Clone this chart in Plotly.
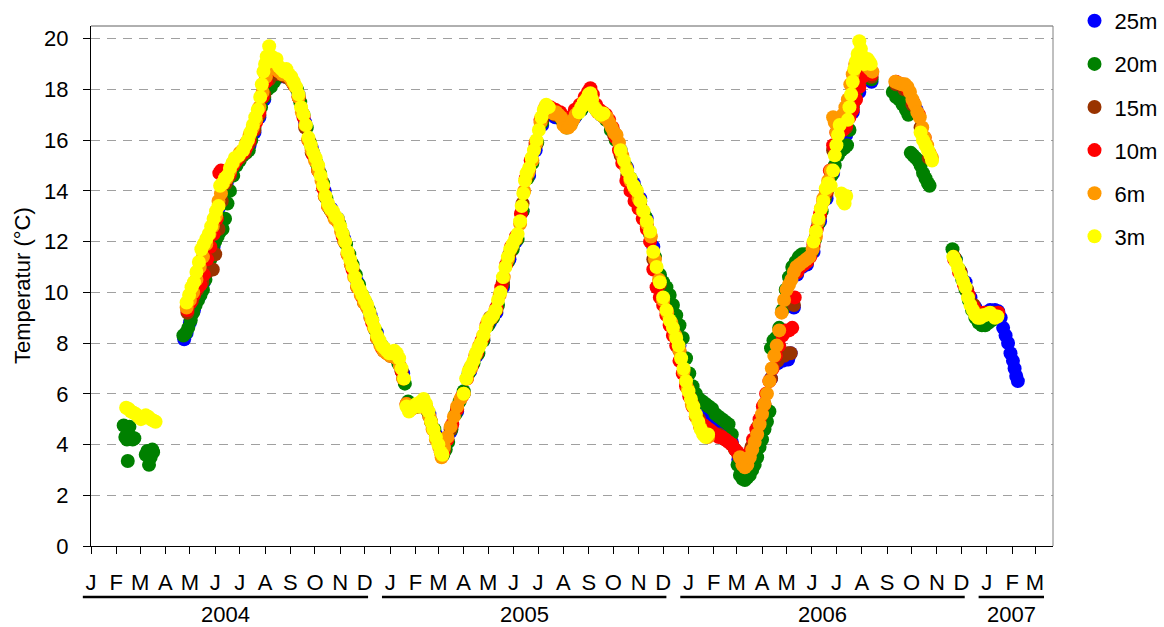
import pandas as pd
import plotly.graph_objects as go

# ---------------- data (day offset from 2004-01-01, temperature °C) ----------------
day0 = pd.Timestamp("2004-01-01")

s25m = [
    (114, 8.15), (117, 8.4), (121, 8.8), (126, 9.3), (132, 9.8), (138, 10.4), (144, 11.0), (150, 11.8),
    (154, 12.8), (156, 13.3), (159, 13.5), (162, 14.0), (166, 14.3), (170, 14.6), (176, 15.0), (182, 15.3),
    (188, 15.5), (194, 15.8), (200, 16.3), (206, 16.9), (212, 17.6), (218, 18.2), (224, 18.4), (230, 18.5),
    (238, 18.5), (246, 18.3), (254, 17.8), (262, 16.7), (270, 15.7), (278, 14.9), (286, 14.0), (294, 13.3),
    (302, 12.9), (310, 12.1), (318, 11.2), (326, 10.4), (334, 9.7), (342, 9.1), (350, 8.4), (358, 7.8),
    (366, 7.6), (374, 7.5), (382, 6.8), (390, 5.6), (398, 5.5), (406, 5.6), (414, 5.2), (422, 4.4), (428, 3.9),
    (432, 4.0), (440, 4.5), (448, 5.3), (456, 6.0), (464, 6.9), (472, 7.5), (480, 8.1), (488, 8.8),
    (496, 9.2), (504, 10.2), (512, 11.3), (520, 12.0), (528, 13.2), (536, 14.6), (544, 15.6), (552, 16.6),
    (560, 17.0), (568, 16.9), (576, 16.8), (584, 16.6), (592, 16.9), (600, 17.2), (608, 17.5), (616, 17.3),
    (624, 17.0), (632, 16.8), (640, 16.3), (648, 15.6), (656, 14.9), (664, 14.3), (672, 13.7), (680, 12.9),
    (688, 11.8), (696, 10.6), (704, 9.6), (712, 8.8), (720, 7.9), (728, 6.8), (736, 5.9), (744, 5.3),
    (752, 5.0), (760, 4.9), (768, 4.7), (776, 4.5), (784, 4.1), (792, 3.4),
    (800, 2.9), (808, 3.5), (816, 4.5), (824, 5.5), (832, 6.6), (840, 7.2), (846, 7.3), (850, 7.35),
    (853, 7.35), (856, 7.6), (860, 9.4), (864, 10.7), (870, 11.0), (876, 11.1), (884, 11.6), (892, 12.8),
    (900, 13.7), (908, 14.7), (916, 15.6), (924, 16.2), (932, 17.1), (940, 17.9), (948, 18.4), (955, 18.3),
    (990, 18.1), (1000, 17.8), (1010, 17.2),
    (1058, 11.3), (1064, 10.8), (1070, 10.4), (1076, 9.8), (1082, 9.4), (1088, 9.2), (1094, 9.2),
    (1100, 9.3), (1106, 9.3), (1110, 9.25), (1113, 9.0), (1116, 8.6), (1119, 8.3), (1122, 8.0), (1125, 7.6),
    (1128, 7.3), (1130, 7.0), (1132, 6.7), (1134, 6.5),
]

s20m = [
    (40, 4.75), (42, 4.3), (44, 4.2), (45, 3.35), (47, 4.7), (49, 4.3), (51, 4.2), (53, 4.25),
    (67, 3.6), (69, 3.75), (71, 3.2), (73, 3.5), (75, 3.8), (76, 3.7),
    (113, 8.3), (116, 8.4), (119, 8.6), (122, 8.9), (125, 9.2), (128, 9.5), (131, 9.7), (134, 9.9),
    (137, 10.1), (140, 10.5), (143, 10.9), (146, 11.3), (149, 11.7), (152, 12.0), (155, 12.2), (158, 12.4),
    (161, 12.5), (164, 12.9), (167, 13.5), (170, 14.0), (174, 14.6), (178, 15.0), (182, 15.2), (186, 15.4),
    (190, 15.5), (193, 15.6), (196, 16.0), (200, 16.5), (204, 16.9), (208, 17.3), (212, 17.7), (216, 18.0),
    (220, 18.1), (224, 18.3), (228, 18.5), (232, 18.6), (236, 18.6), (240, 18.5), (244, 18.4), (248, 18.2),
    (252, 18.0), (256, 17.5), (260, 17.0), (264, 16.5), (268, 15.9), (272, 15.5), (276, 15.1), (280, 14.7),
    (284, 14.3), (288, 13.7), (292, 13.3), (296, 13.1), (300, 12.9), (304, 12.7), (308, 12.3), (312, 11.9),
    (316, 11.5), (320, 11.1), (324, 10.7), (328, 10.3), (332, 9.9), (336, 9.6), (340, 9.3), (344, 8.9),
    (348, 8.5), (352, 8.1), (356, 7.9), (360, 7.7), (364, 7.6), (368, 7.6), (372, 7.5), (376, 7.2),
    (380, 6.9), (384, 6.4), (388, 5.7), (392, 5.5), (396, 5.5), (400, 5.5), (404, 5.6), (408, 5.6),
    (412, 5.3), (416, 4.9), (420, 4.6), (424, 4.2), (428, 3.8), (431, 3.6),
    (434, 3.8), (437, 4.1), (441, 4.6), (446, 5.2), (451, 5.7), (456, 6.1), (462, 6.8), (468, 7.2),
    (474, 7.6), (480, 8.1), (486, 8.7), (492, 9.0), (498, 9.5), (504, 10.3), (510, 11.2), (516, 11.7),
    (522, 12.1), (528, 13.2), (534, 14.5), (540, 15.1), (546, 15.9), (552, 16.7), (558, 17.2), (564, 17.1),
    (570, 17.0), (576, 16.8), (582, 16.5), (588, 16.7), (594, 17.0), (600, 17.2), (606, 17.5), (612, 17.6),
    (618, 17.2), (624, 17.0), (630, 16.8), (636, 16.4), (642, 16.0), (648, 15.5), (654, 15.0), (660, 14.5),
    (666, 14.1), (672, 13.6), (678, 13.0), (684, 12.3), (690, 11.4), (696, 10.7), (700, 10.4), (704, 10.2),
    (708, 9.9), (712, 9.5), (716, 9.1), (720, 8.7), (724, 8.2), (728, 7.4), (732, 6.8), (736, 6.3),
    (740, 6.0), (744, 5.8), (748, 5.7), (752, 5.6), (756, 5.5), (760, 5.4), (764, 5.2), (768, 5.1),
    (772, 5.0), (776, 4.9), (780, 4.8), (784, 4.4), (788, 3.8), (791, 3.2), (794, 2.8), (797, 2.65),
    (800, 2.6), (803, 2.7), (806, 2.8), (809, 3.0), (812, 3.2), (815, 3.5), (818, 3.9), (821, 4.2),
    (824, 4.6), (827, 4.9), (830, 5.3), (832, 7.8), (835, 8.1), (838, 8.2), (842, 8.6), (846, 9.3),
    (850, 10.1), (854, 10.6), (858, 11.0), (862, 11.2), (866, 11.4), (870, 11.5), (874, 11.5), (878, 11.4),
    (882, 11.6), (886, 12.1), (890, 12.7), (894, 13.2), (898, 13.7), (902, 14.1), (906, 14.6), (910, 15.0),
    (914, 15.4), (918, 15.6), (922, 15.7), (925, 15.8), (928, 16.4), (932, 17.3), (936, 17.9), (940, 18.3),
    (944, 18.6), (948, 18.8), (952, 18.6), (955, 18.4),
    (981, 17.9), (985, 17.7), (989, 17.6), (993, 17.4), (997, 17.2), (1000, 17.0), (1003, 15.5),
    (1006, 15.4), (1009, 15.3), (1012, 15.2), (1015, 15.0), (1018, 14.7), (1021, 14.5), (1024, 14.3),
    (1026, 14.2),
    (1054, 11.7), (1058, 11.3), (1062, 10.9), (1066, 10.5), (1070, 10.1), (1074, 9.7), (1078, 9.3),
    (1082, 9.0), (1086, 8.8), (1090, 8.7), (1094, 8.7), (1098, 8.8), (1102, 8.9),
]

s15m = [
    (118, 9.2), (124, 9.7), (130, 10.1), (136, 10.4), (142, 10.8), (146, 10.9), (149, 10.9), (152, 11.5),
    (156, 12.5), (160, 13.6), (165, 14.3), (170, 14.6), (176, 15.1), (182, 15.3), (188, 15.5), (194, 15.9),
    (200, 16.4), (206, 17.0), (212, 17.8), (218, 18.4), (224, 18.6), (230, 18.6), (238, 18.5), (246, 18.3),
    (254, 17.7), (262, 16.5), (270, 15.5), (278, 14.8), (286, 13.8), (294, 13.2), (302, 12.8), (310, 12.0),
    (318, 11.1), (326, 10.2), (334, 9.6), (342, 9.0), (350, 8.2), (358, 7.7), (366, 7.5), (374, 7.4),
    (382, 6.6), (390, 5.5), (398, 5.5), (406, 5.6), (414, 5.1), (422, 4.3), (428, 3.8),
    (432, 3.8), (440, 4.6), (448, 5.4), (456, 6.0), (464, 7.0), (472, 7.6), (480, 8.2), (488, 9.0),
    (496, 9.3), (504, 10.4), (512, 11.5), (520, 12.1), (528, 13.5), (536, 14.8), (544, 15.8), (552, 16.8),
    (560, 17.1), (568, 17.0), (576, 16.9), (584, 16.6), (592, 17.0), (600, 17.3), (608, 17.7), (616, 17.3),
    (624, 17.0), (632, 16.8), (640, 16.2), (648, 15.4), (656, 14.6), (664, 14.0), (672, 13.4), (680, 12.6),
    (688, 11.3), (696, 10.3), (704, 9.3), (712, 8.6), (720, 7.7), (728, 6.5), (736, 5.6), (744, 5.0),
    (752, 4.6), (760, 4.5), (768, 4.4), (776, 4.2), (784, 4.0), (792, 3.6),
    (800, 3.3), (808, 3.9), (816, 4.7), (824, 5.6), (832, 6.6), (840, 7.3), (848, 7.5), (852, 7.6),
    (856, 7.6), (860, 9.5), (864, 10.8), (870, 11.1), (876, 11.2), (884, 11.8), (892, 13.0), (900, 13.9),
    (908, 15.6), (916, 16.4), (924, 16.5), (932, 17.4), (940, 18.2), (948, 18.6), (955, 18.5),
    (985, 18.2), (995, 18.0), (1005, 17.4), (1015, 16.5), (1025, 15.3),
    (1056, 11.4), (1064, 10.8), (1072, 10.1), (1080, 9.5), (1088, 9.2), (1096, 9.2), (1104, 9.2), (1110, 9.2),
]

s10m = [
    (118, 9.3), (122, 9.6), (126, 9.9), (130, 10.2), (134, 10.3), (138, 10.7), (142, 11.3), (146, 11.8),
    (150, 12.3), (154, 12.9), (157, 14.7), (159, 14.8), (162, 14.6), (166, 14.5), (170, 14.7), (174, 15.0),
    (178, 15.2), (182, 15.4), (186, 15.5), (190, 15.7), (194, 16.0), (198, 16.4), (202, 16.7), (206, 17.1),
    (210, 17.7), (214, 18.3), (218, 18.7), (222, 18.8), (226, 18.8), (230, 18.7), (236, 18.6), (242, 18.5),
    (248, 18.2), (254, 17.7), (260, 16.9), (266, 16.0), (272, 15.4), (278, 14.8), (284, 14.1), (290, 13.4),
    (296, 13.1), (302, 12.8), (308, 12.2), (314, 11.5), (320, 10.9), (326, 10.2), (332, 9.8), (338, 9.4),
    (344, 8.8), (350, 8.2), (356, 7.8), (362, 7.6), (368, 7.5), (374, 7.4), (380, 6.9), (386, 5.6),
    (392, 5.4), (398, 5.5), (404, 5.6), (410, 5.5), (416, 4.9), (422, 4.3), (428, 3.7),
    (431, 3.7), (436, 4.2), (442, 4.8), (448, 5.4), (454, 5.9), (460, 6.6), (466, 7.1), (472, 7.6),
    (478, 8.1), (484, 8.7), (490, 9.0), (496, 9.4), (502, 10.2), (508, 11.1), (514, 11.8), (520, 12.2),
    (526, 13.1), (532, 14.5), (538, 15.2), (544, 15.9), (550, 16.8), (556, 17.3), (562, 17.3), (568, 17.2),
    (574, 17.1), (580, 16.8), (586, 16.9), (592, 17.2), (598, 17.4), (604, 17.7), (608, 17.9), (611, 18.05),
    (614, 17.8), (618, 17.4), (622, 17.2), (626, 17.1), (630, 17.0), (634, 16.8), (638, 16.5), (642, 16.1),
    (646, 15.6), (650, 15.1), (655, 14.4), (660, 14.0), (665, 13.6), (670, 13.3), (675, 12.9), (680, 12.5),
    (684, 12.0), (688, 10.9), (692, 10.2), (696, 9.8), (700, 9.5), (704, 9.1), (708, 8.7), (712, 8.3),
    (716, 7.9), (720, 7.3), (724, 6.8), (728, 6.3), (732, 5.9), (736, 5.5), (740, 5.1), (744, 4.9),
    (748, 4.8), (752, 4.7), (756, 4.6), (760, 4.5), (764, 4.4), (768, 4.3), (772, 4.3), (776, 4.2),
    (780, 4.1), (784, 4.0), (788, 3.8), (791, 3.7), (794, 3.5),
    (798, 3.2), (802, 3.3), (806, 3.7), (810, 4.2), (814, 4.6), (818, 5.0), (822, 5.5), (826, 6.0),
    (830, 6.5), (834, 7.0), (838, 7.5), (842, 7.9), (846, 8.3), (850, 8.5), (854, 8.5), (858, 8.6),
    (861, 9.8), (864, 10.8), (868, 11.0), (872, 11.1), (876, 11.2), (880, 11.4), (884, 11.9), (888, 12.5),
    (892, 13.1), (896, 13.6), (900, 14.0), (904, 14.8), (908, 15.8), (912, 16.3), (916, 16.6), (920, 16.4),
    (924, 16.6), (928, 16.9), (932, 17.2), (936, 17.6), (940, 18.1), (944, 18.5), (948, 18.8), (952, 18.7),
    (955, 18.6),
    (985, 18.3), (992, 18.2), (999, 18.0), (1006, 17.5), (1013, 17.0), (1020, 16.1), (1027, 15.4),
    (1056, 11.3), (1062, 10.8), (1068, 10.3), (1074, 9.9), (1080, 9.4), (1086, 9.2), (1092, 9.2),
    (1098, 9.2), (1104, 9.1), (1110, 9.2),
]

s6m = [
    (117, 9.4), (121, 9.7), (125, 10.0), (129, 10.5), (133, 11.0), (137, 11.4), (141, 11.9), (145, 12.3),
    (149, 12.6), (153, 13.0), (156, 13.6), (159, 13.9), (162, 14.3), (166, 14.5), (170, 14.8), (174, 15.1),
    (178, 15.3), (182, 15.5), (186, 15.6), (190, 15.9), (194, 16.2), (198, 16.5), (202, 16.8), (206, 17.3),
    (210, 17.9), (214, 18.5), (218, 18.9), (222, 18.9), (226, 18.8), (230, 18.7), (234, 18.6), (238, 18.6),
    (242, 18.5), (246, 18.3), (250, 18.1), (254, 17.7), (258, 17.1), (262, 16.6), (266, 16.0), (270, 15.6),
    (274, 15.2), (278, 14.8), (282, 14.4), (286, 13.8), (290, 13.4), (294, 13.2), (298, 12.9), (302, 12.8),
    (306, 12.4), (310, 12.0), (314, 11.5), (318, 11.1), (322, 10.6), (326, 10.2), (330, 9.9), (334, 9.6),
    (338, 9.4), (342, 9.0), (346, 8.6), (350, 8.2), (354, 7.9), (358, 7.7), (362, 7.6), (366, 7.5),
    (370, 7.5), (374, 7.4), (378, 7.1), (382, 6.6), (386, 5.6), (390, 5.4), (394, 5.5), (398, 5.5),
    (402, 5.5), (406, 5.6), (410, 5.4), (414, 5.1), (418, 4.6), (422, 4.2), (426, 3.9),
    (429, 3.5), (432, 3.9), (436, 4.3), (440, 4.7), (444, 5.1), (448, 5.5), (452, 5.8), (456, 6.0),
    (460, 6.6), (465, 7.0), (470, 7.5), (475, 7.9), (480, 8.3), (485, 8.8), (490, 9.0), (495, 9.3),
    (500, 9.9), (505, 10.6), (510, 11.3), (515, 11.8), (520, 12.1), (525, 12.7), (530, 14.0), (535, 14.7),
    (540, 15.2), (545, 15.9), (550, 16.7), (555, 17.2), (560, 17.2), (563, 17.1), (566, 17.05), (569, 17.1),
    (572, 17.0), (575, 16.9), (578, 16.6), (581, 16.5), (584, 16.5), (587, 16.6), (590, 16.8), (593, 17.0),
    (596, 17.1), (600, 17.3), (604, 17.5), (608, 17.7), (612, 17.7), (616, 17.3), (620, 17.1), (624, 17.0),
    (628, 16.9), (631, 16.9), (634, 16.7), (637, 16.5), (640, 16.3), (643, 16.2), (646, 15.9), (650, 15.4),
    (655, 14.9), (660, 14.4), (665, 14.1), (670, 13.7), (675, 13.2), (680, 12.7), (685, 12.2), (690, 11.3),
    (695, 10.5), (700, 9.7), (705, 9.2), (710, 8.8), (715, 8.3), (720, 7.7), (725, 6.9), (730, 6.2),
    (735, 5.6), (740, 5.1), (745, 4.7), (750, 4.4), (755, 4.3),
    (794, 3.5), (797, 3.2), (800, 3.1), (803, 3.2), (806, 3.5), (809, 3.8), (812, 4.1), (815, 4.4),
    (818, 4.8), (821, 5.2), (824, 5.6), (827, 6.0), (830, 6.5), (833, 7.0), (836, 7.5), (839, 7.9),
    (842, 8.5), (845, 9.2), (848, 9.7), (851, 10.1), (854, 10.3), (857, 10.5), (860, 10.8), (863, 11.0),
    (867, 11.1), (871, 11.2), (875, 11.3), (879, 11.4), (883, 11.7), (887, 12.2), (890, 12.8), (893, 13.3),
    (896, 13.7), (899, 14.0), (902, 14.4), (905, 14.8), (908, 16.9), (910, 16.7), (912, 16.3), (914, 16.5),
    (917, 16.8), (920, 17.0), (923, 17.3), (926, 17.6), (929, 18.2), (932, 18.6), (935, 19.0), (938, 19.2),
    (941, 19.1), (944, 19.2), (947, 19.0), (950, 18.9), (953, 18.8), (956, 18.7),
    (984, 18.3), (988, 18.25), (992, 18.2), (996, 18.2), (999, 18.1), (1002, 17.9), (1005, 17.6),
    (1008, 17.4), (1011, 17.1), (1014, 16.9), (1017, 16.5), (1020, 16.1), (1023, 15.8), (1026, 15.5),
    (1029, 15.3),
]

s3m = [
    (43, 5.45), (46, 5.4), (49, 5.3), (52, 5.25), (55, 5.2), (58, 5.1), (61, 5.0), (64, 5.05),
    (67, 5.15), (70, 5.1), (73, 5.0), (76, 4.95), (79, 4.9),
    (117, 9.6), (120, 9.9), (123, 10.2), (126, 10.4), (129, 10.8), (132, 11.2), (135, 11.7), (138, 11.9),
    (141, 12.1), (144, 12.3), (147, 12.6), (150, 12.9), (153, 13.2), (156, 13.4), (158, 14.2), (161, 14.3),
    (164, 14.5), (167, 14.6), (170, 14.9), (173, 15.1), (176, 15.3), (181, 15.4), (186, 15.6), (189, 15.8),
    (192, 16.0), (195, 16.3), (198, 16.6), (201, 16.9), (204, 17.2), (207, 17.7), (209, 18.2), (211, 18.7),
    (213, 19.0), (215, 19.3), (218, 19.7), (221, 19.3), (224, 19.1), (227, 19.2), (230, 18.9), (233, 18.8),
    (236, 18.7), (239, 18.8), (242, 18.6), (245, 18.5), (248, 18.3), (251, 18.1), (254, 17.8), (257, 17.3),
    (260, 17.0), (263, 16.6), (266, 16.1), (269, 15.8), (272, 15.5), (275, 15.3), (278, 15.0), (281, 14.6),
    (284, 14.2), (287, 13.8), (290, 13.5), (293, 13.3), (296, 13.2), (299, 13.0), (302, 12.9), (305, 12.6),
    (308, 12.3), (311, 12.0), (314, 11.6), (317, 11.3), (320, 11.0), (323, 10.6), (326, 10.3), (329, 10.1),
    (332, 9.9), (335, 9.7), (338, 9.5), (341, 9.2), (344, 8.9), (347, 8.6), (350, 8.3), (353, 8.1),
    (356, 7.9), (359, 7.8), (362, 7.7), (365, 7.6), (368, 7.6), (371, 7.7), (374, 7.6), (377, 7.4),
    (380, 7.0), (383, 6.6), (386, 5.5), (389, 5.3), (392, 5.4), (395, 5.5), (398, 5.6), (401, 5.5),
    (404, 5.7), (407, 5.8), (410, 5.6), (413, 5.3), (416, 4.9), (419, 4.6), (422, 4.3), (425, 4.0),
    (428, 3.7), (430, 3.6),
    (456, 6.0), (459, 6.6), (462, 6.9), (465, 7.1), (468, 7.3), (471, 7.6), (474, 7.8), (477, 8.0),
    (480, 8.3), (483, 8.6), (486, 8.9), (489, 9.0), (492, 9.1), (495, 9.3), (498, 9.7), (501, 10.0),
    (504, 10.6), (507, 11.0), (510, 11.4), (513, 11.7), (516, 11.9), (519, 12.1), (522, 12.3), (525, 12.8),
    (527, 13.4), (529, 13.9), (531, 14.4), (533, 14.7), (536, 14.9), (539, 15.3), (542, 15.6), (545, 16.0),
    (548, 16.4), (551, 16.9), (554, 17.2), (557, 17.4), (560, 17.3),
    (597, 17.1), (600, 17.3), (603, 17.5), (606, 17.6), (609, 17.8), (611, 17.85), (613, 17.6), (615, 17.3),
    (618, 17.2), (621, 17.1), (624, 17.0), (627, 17.05),
    (648, 15.6), (652, 15.2), (656, 14.8), (660, 14.5), (664, 14.2), (668, 14.0), (672, 13.6), (676, 13.2),
    (680, 12.8), (684, 12.4), (688, 11.6), (692, 11.0), (696, 10.4), (700, 9.8), (704, 9.3), (708, 8.9),
    (712, 8.6), (716, 8.2), (719, 7.9), (722, 7.4), (725, 7.0), (728, 6.5), (731, 6.1), (734, 5.8),
    (737, 5.5), (740, 5.2), (743, 4.9), (746, 4.6), (749, 4.4), (752, 4.3), (755, 4.4),
    (884, 12.0), (887, 12.4), (890, 12.9), (893, 13.3), (896, 13.6), (899, 14.1), (902, 14.3), (905, 14.2),
    (908, 14.8), (910, 15.4), (912, 15.8), (914, 16.2), (916, 16.6), (918, 13.9), (920, 13.6), (922, 13.5),
    (924, 13.8), (926, 16.8), (928, 17.3), (930, 17.8), (932, 18.3), (934, 18.8), (936, 19.1), (938, 19.4),
    (940, 19.9), (942, 19.6), (944, 19.3), (946, 19.0), (948, 19.1), (950, 19.2), (952, 19.1), (954, 19.0),
    (1015, 16.3), (1018, 16.0), (1021, 15.8), (1024, 15.6), (1027, 15.4), (1029, 15.2),
    (1055, 11.4), (1058, 11.2), (1061, 10.95), (1064, 10.7), (1067, 10.45), (1070, 10.2), (1073, 9.8),
    (1076, 9.5), (1079, 9.3), (1082, 9.1), (1085, 9.0), (1088, 9.0), (1091, 9.1), (1094, 9.1),
    (1097, 9.15), (1100, 9.2), (1103, 9.1), (1106, 9.0), (1109, 9.05),
]

series_names = ["25m", "20m", "15m", "10m", "6m", "3m"]
series_data = [s25m, s20m, s15m, s10m, s6m, s3m]

month_letters = list("JFMAMJJASOND") * 3 + list("JFM")
year_labels = ["2004", "2005", "2006", "2007"]

# ---------------- styling ----------------
colors = ["#0000FF", "#008000", "#993300", "#FF0000", "#FF9900", "#FFFF00"]
FONT = "Arial, 'Liberation Sans', sans-serif"
FS = 22

fig = go.Figure()
for name, data, col in zip(series_names, series_data, colors):
    fig.add_trace(go.Scatter(
        x=[day0 + pd.Timedelta(days=d) for d, _ in data],
        y=[v for _, v in data],
        mode="markers",
        name=name,
        legendgroup=name,
        marker=dict(size=14, color=col, line=dict(width=0)),
        cliponaxis=True,
    ))

tick_dates = pd.date_range("2004-01-01", "2007-03-01", freq="MS")
x_start, x_end = pd.Timestamp("2004-01-01"), pd.Timestamp("2007-03-23")

fig.update_layout(
    width=1164, height=627,
    margin=dict(l=91, r=111, t=26, b=81, autoexpand=False),
    paper_bgcolor="white", plot_bgcolor="white",
    font=dict(family=FONT, size=FS, color="black"),
    showlegend=True,
    legend=dict(
        x=(1074.5 - 91) / 962, y=1.0 + 26 / 520,
        xanchor="left", yanchor="top",
        font=dict(family=FONT, size=FS, color="black"),
        tracegroupgap=11.5, bgcolor="rgba(0,0,0,0)",
    ),
    xaxis=dict(
        type="date", range=[x_start, x_end],
        tickmode="array", tickvals=tick_dates, ticktext=month_letters,
        ticks="outside", ticklen=7, tickcolor="black", tickwidth=1,
        showline=True, linecolor="black", linewidth=1,
        showgrid=False, zeroline=False,
        tickfont=dict(family=FONT, size=FS, color="black"),
        ticklabelstandoff=10,
    ),
    yaxis=dict(
        range=[0, 20.5], tickmode="array", tickvals=list(range(0, 21, 2)),
        ticks="outside", ticklen=7, tickcolor="black", tickwidth=1,
        showline=True, linecolor="black", linewidth=1,
        showgrid=True, gridcolor="#a0a0a0", gridwidth=1, griddash="9px,7px",
        zeroline=False,
        tickfont=dict(family=FONT, size=FS, color="black"),
        ticklabelstandoff=10,
    ),
)

# plot-area border (top / right) in grey
fig.add_shape(type="line", xref="paper", yref="paper", x0=0, x1=1, y0=1, y1=1,
              line=dict(color="#606060", width=1))
fig.add_shape(type="line", xref="paper", yref="paper", x0=1, x1=1, y0=0, y1=1,
              line=dict(color="#808080", width=1))


def to_paper(ts):
    return (ts - x_start) / (x_end - x_start)


# year underlines + labels
line_y = (546 - 597) / 520
label_y = (546 - 614) / 520
for yr in year_labels:
    months = [d for d in tick_dates if str(d.year) == yr]
    start = months[0] - pd.Timedelta(days=10)
    end = months[-1] + pd.Timedelta(days=(11 if len(months) < 12 else 4))
    fig.add_shape(type="line", xref="paper", yref="paper",
                  x0=to_paper(start), x1=to_paper(end), y0=line_y, y1=line_y,
                  line=dict(color="black", width=2.5))
    mid = start + (end - start) / 2
    fig.add_annotation(x=to_paper(mid), xref="paper", y=label_y, yref="paper", text=yr,
                       showarrow=False, xanchor="center", yanchor="middle",
                       font=dict(family=FONT, size=FS, color="black"))

# y axis title
fig.add_annotation(x=0, xref="paper", xshift=22 - 91, y=0.5, yref="paper",
                   text="Temperatur (°C)", textangle=-90, showarrow=False,
                   xanchor="center", yanchor="middle",
                   font=dict(family=FONT, size=FS, color="black"))

fig.write_html("out.html")
